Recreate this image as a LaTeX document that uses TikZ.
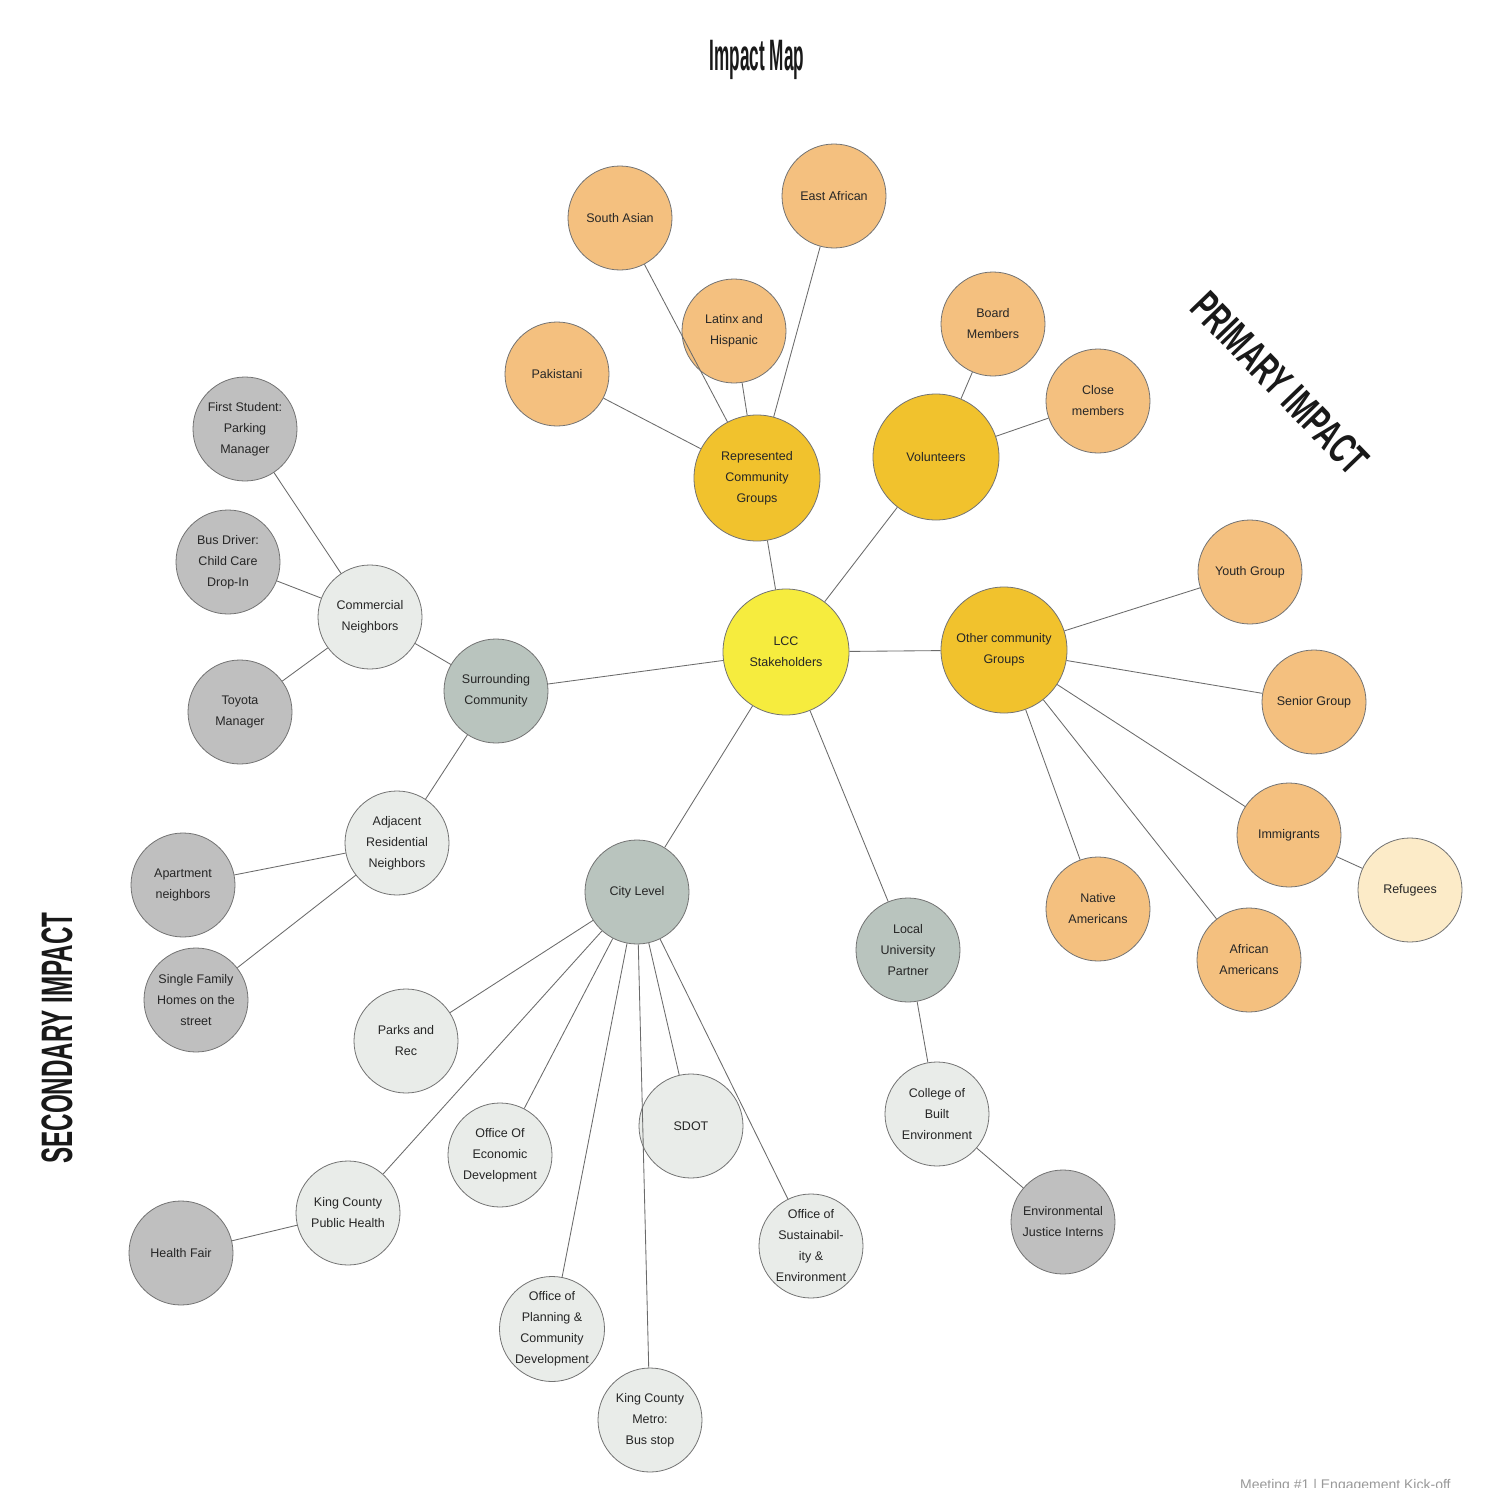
\documentclass[tikz,border=0pt]{standalone}
\usepackage{fontspec}
\setmainfont{Liberation Sans}
\begin{document}
\begin{tikzpicture}[x=1pt,y=-1pt,
  bub/.style={circle,draw=black!55,line width=0.8pt,inner sep=0pt,minimum size=104pt,align=center,
     font=\fontsize{12.5}{21}\selectfont,text=black!85},
  big/.style={bub,minimum size=126pt},
  cLCC/.style={fill=lccy},
  cGold/.style={fill=goldc},
  cPeach/.style={fill=peach},
  cCream/.style={fill=cream},
  cSage/.style={fill=sage},
  cLight/.style={fill=lightg},
  cGray/.style={fill=grayc},
  link/.style={draw=black!58,line width=0.85pt},
  bigtitle/.style={inner sep=0pt,text=black!90}
]
\definecolor{lccy}{HTML}{F6EC3E}
\definecolor{goldc}{HTML}{F1C22D}
\definecolor{peach}{HTML}{F4C07F}
\definecolor{cream}{HTML}{FCEBC8}
\definecolor{sage}{HTML}{B9C4BE}
\definecolor{lightg}{HTML}{E9ECE9}
\definecolor{grayc}{HTML}{BFBFBF}
\useasboundingbox[fill=white] (0,0) rectangle (1508,1488);

% titles
\node[bigtitle] (title) at (757,60) {\scalebox{0.39}[1]{\fontsize{44}{44}\selectfont\bfseries Impact Map}};
\node[bigtitle,rotate=-46] (prim) at (1280,383) {\scalebox{0.63}[1]{\fontsize{43}{43}\selectfont\bfseries PRIMARY IMPACT}};
\node[bigtitle,rotate=90] (sec) at (57,1038) {\scalebox{0.55}[1]{\fontsize{44}{44}\selectfont\bfseries SECONDARY IMPACT}};
\node[anchor=north west,inner sep=0pt,text=black!40,font=\fontsize{14}{14}\selectfont] (foot) at (1240,1479) {Meeting \#1 | Engagement Kick-off};

% hub
\node[big,cLCC] (lcc) at (786,652) {LCC\\Stakeholders};
\node[big,cGold] (rcg) at (757,478) {Represented\\Community\\Groups};
\node[big,cGold] (vol) at (936,457) {Volunteers};
\node[big,cGold] (other) at (1004,650) {Other community\\Groups};

% peach
\node[bub,cPeach] (sasian) at (620,218) {South Asian};
\node[bub,cPeach] (eafr) at (834,196) {East African};
\node[bub,cPeach] (latinx) at (734,331) {Latinx and\\Hispanic};
\node[bub,cPeach] (pak) at (557,374) {Pakistani};
\node[bub,cPeach] (board) at (993,324) {Board\\Members};
\node[bub,cPeach] (close) at (1098,401) {Close\\members};
\node[bub,cPeach] (youth) at (1250,572) {Youth Group};
\node[bub,cPeach] (senior) at (1314,702) {Senior Group};
\node[bub,cPeach] (immig) at (1289,835) {Immigrants};
\node[bub,cCream] (refug) at (1410,890) {Refugees};
\node[bub,cPeach] (native) at (1098,909) {Native\\Americans};
\node[bub,cPeach] (afram) at (1249,960) {African\\Americans};

% surrounding
\node[bub,cSage] (surr) at (496,691) {Surrounding\\Community};
\node[bub,cLight] (comm) at (370,617) {Commercial\\Neighbors};
\node[bub,cGray] (first) at (245,429) {First Student:\\Parking\\Manager};
\node[bub,cGray] (bus) at (228,562) {Bus Driver:\\Child Care\\Drop-In};
\node[bub,cGray] (toyota) at (240,712) {Toyota\\Manager};
\node[bub,cLight] (adj) at (397,843) {Adjacent\\Residential\\Neighbors};
\node[bub,cGray] (apt) at (183,885) {Apartment\\neighbors};
\node[bub,cGray] (single) at (196,1000) {Single Family\\Homes on the\\street};

% city
\node[bub,cSage] (city) at (637,892) {City Level};
\node[bub,cLight] (parks) at (406,1041) {Parks and\\Rec};
\node[bub,cLight] (econ) at (500,1155) {Office Of\\Economic\\Development};
\node[bub,cLight] (sdot) at (691,1126) {SDOT};
\node[bub,cLight] (kcph) at (348,1213) {King County\\Public Health};
\node[bub,cGray] (fair) at (181,1253) {Health Fair};
\node[bub,cLight] (sust) at (811,1246) {Office of\\Sustainabil-\\ity \&\\Environment};
\node[bub,cLight] (plan) at (552,1329) {Office of\\Planning \&\\Community\\Development};
\node[bub,cLight] (metro) at (650,1420) {King County\\Metro:\\Bus stop};

% university
\node[bub,cSage] (univ) at (908,950) {Local\\University\\Partner};
\node[bub,cLight] (college) at (937,1114) {College of\\Built\\Environment};
\node[bub,cGray] (ej) at (1063,1222) {Environmental\\Justice Interns};

% links
\draw[link] (lcc) -- (rcg);
\draw[link] (lcc) -- (vol);
\draw[link] (lcc) -- (other);
\draw[link] (lcc) -- (surr);
\draw[link] (lcc) -- (city);
\draw[link] (lcc) -- (univ);
\draw[link] (rcg) -- (pak);
\draw[link] (rcg) -- (sasian);
\draw[link] (rcg) -- (latinx);
\draw[link] (rcg) -- (eafr);
\draw[link] (vol) -- (board);
\draw[link] (vol) -- (close);
\draw[link] (other) -- (youth);
\draw[link] (other) -- (senior);
\draw[link] (other) -- (immig);
\draw[link] (other) -- (native);
\draw[link] (other) -- (afram);
\draw[link] (immig) -- (refug);
\draw[link] (surr) -- (comm);
\draw[link] (surr) -- (adj);
\draw[link] (comm) -- (first);
\draw[link] (comm) -- (bus);
\draw[link] (comm) -- (toyota);
\draw[link] (adj) -- (apt);
\draw[link] (adj) -- (single);
\draw[link] (city) -- (parks);
\draw[link] (city) -- (econ);
\draw[link] (city) -- (sdot);
\draw[link] (city) -- (kcph);
\draw[link] (city) -- (sust);
\draw[link] (city) -- (plan);
\draw[link] (city) -- (metro);
\draw[link] (kcph) -- (fair);
\draw[link] (univ) -- (college);
\draw[link] (college) -- (ej);
\end{tikzpicture}
\end{document}
